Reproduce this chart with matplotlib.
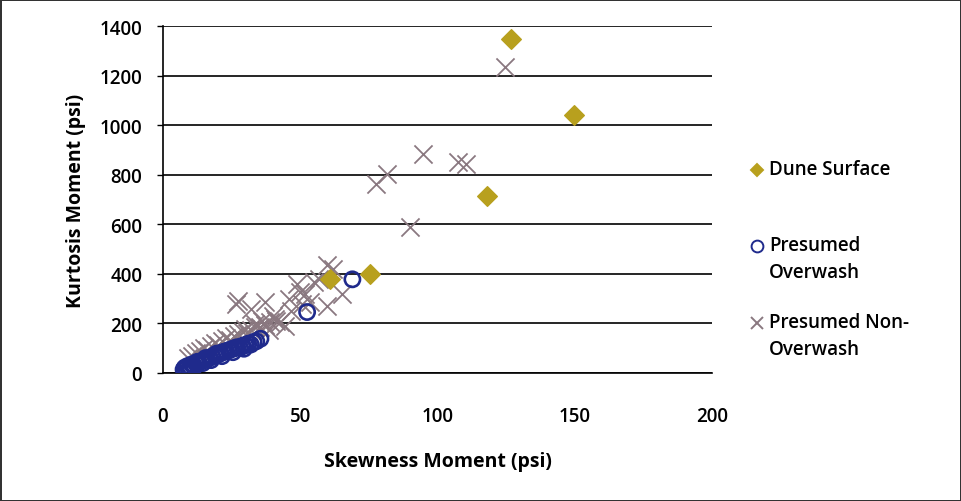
import matplotlib
matplotlib.use("Agg")
import matplotlib.pyplot as plt
from matplotlib.lines import Line2D

plt.rcParams['font.family'] = ['Open Sans', 'DejaVu Sans']

# Dune surface samples
dune_x = [126.8, 149.7, 118.0, 75.4, 60.8]
dune_y = [1347, 1040, 714, 400, 380]

# Presumed overwash samples
over_x = [7.5, 8, 8.5, 9, 10, 10.5, 11, 12, 12.5, 13, 14, 15, 15.5, 16, 17, 18,
          19, 19.5, 20, 21, 22, 23, 24, 25, 26, 27, 28, 29, 30, 31, 32, 33, 34,
          35.5, 52.5, 69, 9.5, 11.5, 14.5, 17.5, 21.5, 25.5, 29.5]
over_y = [14, 22, 18, 28, 24, 35, 30, 38, 45, 42, 48, 52, 60, 55, 62, 66,
          70, 78, 74, 80, 85, 88, 92, 96, 100, 104, 102, 110, 112, 118, 115, 125, 128,
          138, 246, 378, 16, 26, 40, 52, 68, 84, 98]

# Presumed non-overwash samples
non_x = [124.6, 94.7, 107.5, 110.4, 77.6, 81.6, 90.0, 59.7,
         48.8, 37.2, 27.3, 26.6, 49.9, 53.6, 59.7, 65.2, 40.0, 44.4,
         30.0, 33.5, 40.8, 46.0, 51.7, 55.0, 57.0, 62.0, 32.0,
         35.5, 38.5, 42.5, 36.0, 46.5, 50.5,
         9, 10.5, 12, 13.5, 15, 16, 17.5, 19, 20, 21.5, 23, 24.5, 26, 27.5,
         29, 30.5, 32, 33.5, 35, 37, 39, 41]
non_y = [1234, 883, 851, 843, 762, 803, 589, 435,
         359, 286, 290, 278, 327, 286, 270, 319, 230, 190,
         177, 198, 218, 298, 319, 367, 380, 420, 258,
         185, 175, 205, 210, 250, 280,
         60, 70, 80, 88, 100, 92, 110, 120, 112, 130, 140, 135, 150, 158,
         165, 160, 175, 185, 180, 195, 205, 210]

labels = ["Dune Surface", "Presumed\nOverwash", "Presumed Non-\nOverwash"]

dune_color = "#B8A01E"
over_color = "#1F2A8C"
non_color = "#8A7880"

fig = plt.figure(figsize=(9.61, 5.02), dpi=100)
fig.patch.set_edgecolor("#333333")
fig.patch.set_linewidth(2)
ax = fig.add_axes([0.1696, 0.255, 0.5713, 0.691])

ax.scatter(non_x, non_y, marker="x", s=170, c=non_color, linewidths=1.3, zorder=3)
ax.scatter(over_x, over_y, marker="o", s=120, facecolors="none", edgecolors=over_color,
           linewidths=1.9, zorder=4)
ax.scatter(dune_x, dune_y, marker="D", s=100, c=dune_color, edgecolors=dune_color, zorder=5)

ax.set_xlim(0, 200)
ax.set_ylim(0, 1400)
ax.set_xticks(range(0, 201, 50))
ax.set_yticks(range(0, 1401, 200))
ax.grid(axis="y", color="black", linewidth=1.2)
ax.set_axisbelow(True)
for s in ["top", "right"]:
    ax.spines[s].set_visible(False)
ax.spines["left"].set_linewidth(1.2)
ax.spines["bottom"].set_linewidth(1.2)
ax.tick_params(axis="y", length=4, width=1, pad=11, labelsize=13.5)
ax.tick_params(axis="x", length=0, pad=24, labelsize=13.5)
for lab in ax.get_xticklabels() + ax.get_yticklabels():
    lab.set_fontweight("semibold")

ax.set_xlabel("Skewness Moment (psi)", fontsize=14, fontweight="bold", labelpad=18)
ax.set_ylabel("Kurtosis Moment (psi)", fontsize=14, fontweight="bold", labelpad=10)

# legend drawn by hand, entries spaced like the original
leg_y = [171, 247, 324]
markers = [("D", dune_color, dune_color, 6.5), ("o", "none", over_color, 8.5), ("x", non_color, non_color, 9)]
W, H = 961.0, 502.0
for lab, yy, (m, fc, ec, ms) in zip(labels, leg_y, markers):
    fig.add_artist(Line2D([757 / W], [1 - yy / H], transform=fig.transFigure, marker=m,
                          markersize=ms, markerfacecolor=fc, markeredgecolor=ec,
                          markeredgewidth=1.4, linestyle="none"))
    # top of text a bit above the marker so the first line sits on it
    fig.text(769 / W, 1 - (yy - 11) / H, lab, fontsize=13.5, fontweight="semibold", va="top",
             ha="left", linespacing=1.45, transform=fig.transFigure)

fig.savefig("out.png", dpi=100)
